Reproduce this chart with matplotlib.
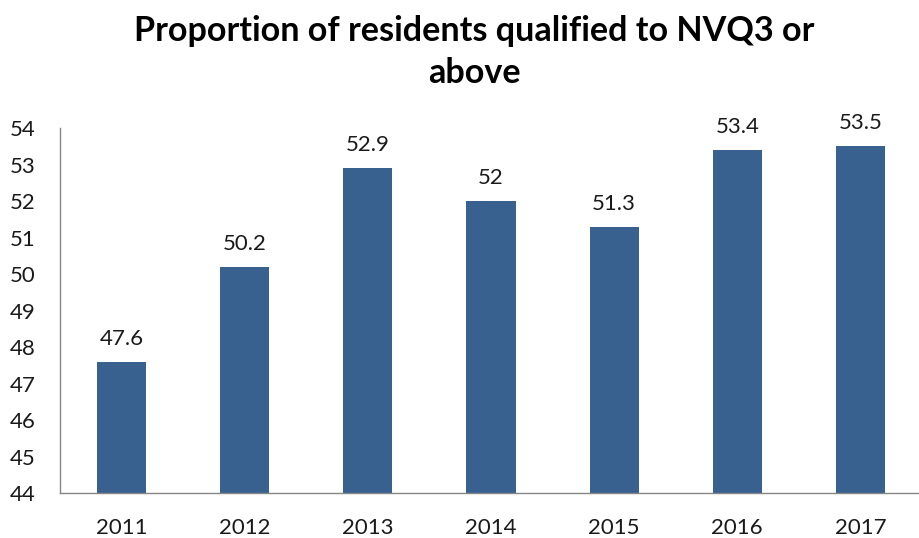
import matplotlib.pyplot as plt

years = ["2011", "2012", "2013", "2014", "2015", "2016", "2017"]
values = [47.6, 50.2, 52.9, 52, 51.3, 53.4, 53.5]
value_labels = ["47.6", "50.2", "52.9", "52", "51.3", "53.4", "53.5"]

plt.rcParams['font.family'] = ['Lato', 'DejaVu Sans']

fig = plt.figure(figsize=(9.2, 5.38), dpi=100)
ax = fig.add_axes([60 / 920, 1 - 493 / 538, 862 / 920, 365 / 538])

bars = ax.bar(range(len(years)), values, width=0.4, bottom=0, color='#386190')
ax.set_ylim(44, 54)
ax.set_xlim(-0.5, len(years) - 0.5)
ax.set_xticks(range(len(years)))
ax.set_xticklabels(years)
ax.set_yticks(range(44, 55))
ax.tick_params(length=0, labelsize=16, colors='#1a1a1a')
ax.tick_params(axis='x', pad=18)
for lbl in ax.get_yticklabels():
    lbl.set_horizontalalignment('left')
ax.yaxis.set_tick_params(pad=36)

for s in ['top', 'right']:
    ax.spines[s].set_visible(False)
for s in ['left', 'bottom']:
    ax.spines[s].set_color('#868686')
    ax.spines[s].set_linewidth(1)

for i, v in enumerate(values):
    ax.text(i, v + 0.35, value_labels[i], ha='center', va='bottom', fontsize=16, color='#1a1a1a')

# title sits a little right of centre in the original
fig.text(474 / 920, 1 - 52 / 538, "Proportion of residents qualified to NVQ3 or\nabove",
         ha='center', va='center', fontsize=24.6, fontweight='bold', linespacing=1.38)

fig.savefig('out.png', dpi=100)
